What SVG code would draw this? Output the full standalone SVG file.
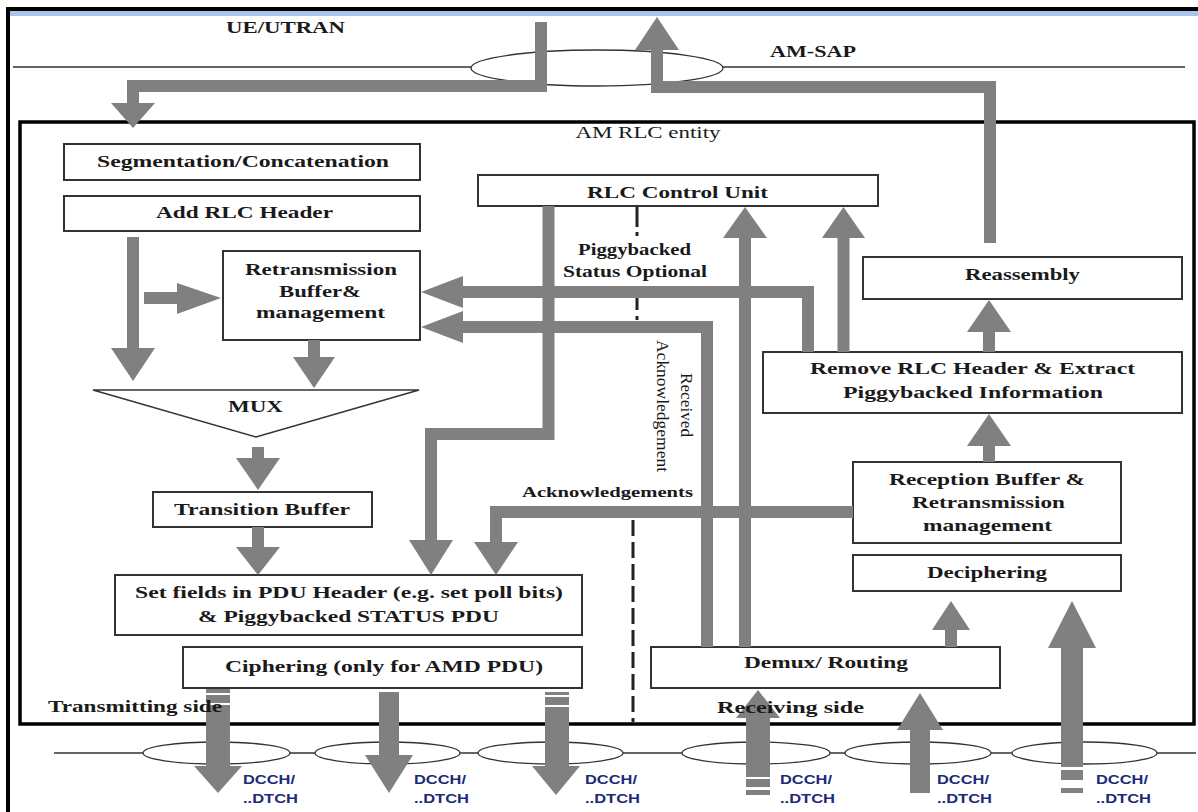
<svg xmlns="http://www.w3.org/2000/svg" width="1198" height="812" viewBox="0 0 1198 812">
<style>
.box{fill:#fff;stroke:#333;stroke-width:2}
.t{font-family:"Liberation Serif","Times New Roman",serif;font-weight:bold;font-size:17px;fill:#1a1a1a;text-anchor:middle}
.n{font-family:"Liberation Serif","Times New Roman",serif;font-size:16px;fill:#1a1a1a;text-anchor:middle}
.c{fill:none;stroke:#808080;stroke-width:12;stroke-linejoin:miter}
.h{fill:#808080;stroke:none}
.ch{font-family:"Liberation Sans",Arial,sans-serif;font-weight:bold;font-size:12.5px;fill:#1b2a7a}
.ln{stroke:#333;stroke-width:1.3;fill:none}
.el{stroke:#333;stroke-width:1.3;fill:#fff}
.dd{stroke:#222;stroke-width:3;fill:none}
</style>
<rect x="0" y="0" width="1198" height="812" fill="#fff"/>
<!-- outer frame -->
<rect x="6" y="7" width="1192" height="4" fill="#000"/>
<rect x="10" y="11" width="1188" height="5" fill="#a9c6ea"/>
<rect x="6" y="7" width="4" height="805" fill="#000"/>

<!-- SAP lines -->
<g id="am-sap">
<line class="ln" x1="13" y1="67" x2="1185" y2="67"/>
<ellipse class="el" cx="597" cy="68" rx="126" ry="18"/>
<text class="t" x="285.5" y="33" textLength="119" lengthAdjust="spacingAndGlyphs">UE/UTRAN</text>
<text class="t" x="813" y="57" textLength="86" lengthAdjust="spacingAndGlyphs">AM-SAP</text>
</g>
<g id="channels">
<line class="ln" x1="54" y1="753" x2="1196" y2="753"/>
<ellipse class="el" cx="216.5" cy="753" rx="73.5" ry="11"/>
<ellipse class="el" cx="387.5" cy="753" rx="72.5" ry="11"/>
<ellipse class="el" cx="550.5" cy="753" rx="72.5" ry="11"/>
<ellipse class="el" cx="756" cy="753" rx="74" ry="11"/>
<ellipse class="el" cx="918" cy="753" rx="73" ry="11"/>
<ellipse class="el" cx="1084.5" cy="753" rx="72.5" ry="11"/>
</g>

<!-- AM RLC entity -->
<g id="am-rlc-entity">
<rect x="20" y="122" width="1174" height="602" fill="none" stroke="#000" stroke-width="3.5"/>
<text class="n" x="648" y="138" textLength="145" lengthAdjust="spacingAndGlyphs">AM RLC entity</text>
</g>

<!-- divider -->
<g id="divider">
<line class="dd" x1="637" y1="207" x2="637" y2="227"/>
<line class="dd" x1="637" y1="232" x2="637" y2="236"/>
<line class="dd" x1="637" y1="292" x2="637" y2="310"/>
<line class="dd" x1="637" y1="316" x2="637" y2="320"/>
<line class="dd" x1="633" y1="520" x2="633" y2="722" stroke-dasharray="16 6"/>
</g>

<!-- nodes -->
<g id="segmentation">
<rect class="box" x="64" y="144" width="356" height="36"/>
<text class="t" x="243" y="167" textLength="292" lengthAdjust="spacingAndGlyphs">Segmentation/Concatenation</text>
</g>
<g id="add-rlc-header">
<rect class="box" x="64" y="196" width="356" height="35"/>
<text class="t" x="244.5" y="218" textLength="177" lengthAdjust="spacingAndGlyphs">Add RLC Header</text>
</g>
<g id="retx-buffer">
<rect class="box" x="223" y="251" width="197" height="89"/>
<text class="t" x="321" y="275" textLength="152" lengthAdjust="spacingAndGlyphs">Retransmission</text>
<text class="t" x="320" y="297" textLength="82" lengthAdjust="spacingAndGlyphs">Buffer&amp;</text>
<text class="t" x="320.5" y="318" textLength="129" lengthAdjust="spacingAndGlyphs">management</text>
</g>
<g id="mux">
<polygon points="93,390 419,390 256,437" fill="#fff" stroke="#333" stroke-width="1.5"/>
<text class="t" x="255.5" y="412" textLength="55" lengthAdjust="spacingAndGlyphs">MUX</text>
</g>
<g id="transition-buffer">
<rect class="box" x="153" y="492" width="219" height="35"/>
<text class="t" x="262" y="515" textLength="176" lengthAdjust="spacingAndGlyphs">Transition Buffer</text>
</g>
<g id="set-fields">
<rect class="box" x="115" y="575" width="467" height="60"/>
<text class="t" x="349" y="598" textLength="428" lengthAdjust="spacingAndGlyphs">Set fields in PDU Header (e.g. set poll bits)</text>
<text class="t" x="348.5" y="622" textLength="301" lengthAdjust="spacingAndGlyphs">&amp; Piggybacked STATUS PDU</text>
</g>
<g id="ciphering">
<rect class="box" x="183" y="647" width="399" height="41"/>
<text class="t" x="384" y="672" textLength="318" lengthAdjust="spacingAndGlyphs">Ciphering (only for AMD PDU)</text>
</g>
<g id="rlc-control-unit">
<rect class="box" x="478" y="175" width="400" height="31"/>
<text class="t" x="677.5" y="198" textLength="181" lengthAdjust="spacingAndGlyphs">RLC Control Unit</text>
</g>
<g id="reassembly">
<rect class="box" x="863" y="257" width="319" height="42"/>
<text class="t" x="1022.5" y="280" textLength="115" lengthAdjust="spacingAndGlyphs">Reassembly</text>
</g>
<g id="remove-header">
<rect class="box" x="763" y="352" width="419" height="61"/>
<text class="t" x="972.5" y="374" textLength="325" lengthAdjust="spacingAndGlyphs">Remove RLC Header &amp; Extract</text>
<text class="t" x="973" y="398" textLength="260" lengthAdjust="spacingAndGlyphs">Piggybacked Information</text>
</g>
<g id="reception-buffer">
<rect class="box" x="853" y="462" width="268" height="81"/>
<text class="t" x="987" y="485" textLength="196" lengthAdjust="spacingAndGlyphs">Reception Buffer &amp;</text>
<text class="t" x="988.5" y="508" textLength="153" lengthAdjust="spacingAndGlyphs">Retransmission</text>
<text class="t" x="987.5" y="531" textLength="129" lengthAdjust="spacingAndGlyphs">management</text>
</g>
<g id="deciphering">
<rect class="box" x="853" y="555" width="268" height="36"/>
<text class="t" x="987" y="578" textLength="120" lengthAdjust="spacingAndGlyphs">Deciphering</text>
</g>
<g id="demux-routing">
<rect class="box" x="651" y="647" width="349" height="41"/>
<text class="t" x="826" y="668" textLength="164" lengthAdjust="spacingAndGlyphs">Demux/ Routing</text>
</g>

<!-- connectors -->
<g id="connectors">
<path class="c" d="M541,22 V86 H133 V104"/>
<polygon class="h" points="111,103 155,103 133,128"/>
<path class="c" d="M990,243 V87 H657 V49"/>
<polygon class="h" points="635,50 679,50 657,17"/>
<path class="c" d="M133,237 V349"/>
<polygon class="h" points="111,348 155,348 133,381"/>
<path class="c" d="M144,298 H178"/>
<polygon class="h" points="177,283 177,314 221,298"/>
<path class="c" d="M314,340 V358"/>
<polygon class="h" points="293,357 335,357 314,388"/>
<path class="c" d="M258,447 V459"/>
<polygon class="h" points="236,458 280,458 258,490"/>
<path class="c" d="M258,527 V548"/>
<polygon class="h" points="236,547 280,547 258,575"/>
<path class="c" d="M548.5,206 V434 H431 V541"/>
<polygon class="h" points="409,540 453,540 431,575"/>
<path class="c" d="M853,512 H496 V543"/>
<polygon class="h" points="474,542 518,542 496,575"/>
<path class="c" d="M808,352 V292 H462"/>
<polygon class="h" points="463,276 463,308 421,292"/>
<path class="c" d="M707,647 V327 H462"/>
<polygon class="h" points="463,311 463,343 421,327"/>
<path class="c" d="M745,647 V237"/>
<polygon class="h" points="723,238 767,238 745,207"/>
<path class="c" d="M843.5,352 V237"/>
<polygon class="h" points="822,238 865,238 843.5,207"/>
<path class="c" d="M989,352 V331"/>
<polygon class="h" points="967,332 1011,332 989,300"/>
<path class="c" d="M989,462 V445"/>
<polygon class="h" points="967,446 1011,446 989,414"/>
<path class="c" d="M951,647 V629"/>
<polygon class="h" points="932,630 970,630 951,601"/>
<!-- transmitting channel arrows -->
<rect class="h" x="206" y="689" width="24" height="4"/>
<rect class="h" x="206" y="695" width="24" height="8"/>
<rect class="h" x="206" y="705" width="24" height="62"/>
<polygon class="h" points="194,766 242,766 218,793"/>
<rect class="h" x="379" y="692" width="20" height="64"/>
<polygon class="h" points="365,755 413,755 389,793"/>
<rect class="h" x="545" y="692" width="24" height="3"/>
<rect class="h" x="545" y="697" width="24" height="8"/>
<rect class="h" x="545" y="707" width="24" height="60"/>
<polygon class="h" points="532,766 580,766 556,795"/>
<!-- receiving channel arrows -->
<polygon class="h" points="736,718 780,718 758,690"/>
<rect class="h" x="746" y="717" width="24" height="60"/>
<rect class="h" x="746" y="779" width="24" height="8"/>
<rect class="h" x="746" y="790" width="24" height="5"/>
<polygon class="h" points="897,730 943,730 920,693"/>
<rect class="h" x="910" y="729" width="20" height="64"/>
<polygon class="h" points="1048,648 1096,648 1072,601"/>
<rect class="h" x="1061" y="647" width="22" height="120"/>
<rect class="h" x="1061" y="770" width="22" height="10"/>
<rect class="h" x="1061" y="788" width="22" height="5"/>
</g>

<!-- labels -->
<g id="labels">
<text class="t" x="634.5" y="255" textLength="113" lengthAdjust="spacingAndGlyphs">Piggybacked</text>
<text class="t" x="635" y="277" textLength="144" lengthAdjust="spacingAndGlyphs">Status Optional</text>
<text class="n" transform="translate(681,405) rotate(90)" textLength="64" lengthAdjust="spacingAndGlyphs">Received</text>
<text class="n" transform="translate(657,406) rotate(90)" textLength="132" lengthAdjust="spacingAndGlyphs">Acknowledgement</text>
<text class="t" style="font-size:15px" x="607.5" y="497" textLength="171" lengthAdjust="spacingAndGlyphs">Acknowledgements</text>
<text class="t" x="135" y="712" textLength="174" lengthAdjust="spacingAndGlyphs">Transmitting side</text>
<text class="t" x="790.5" y="713" textLength="147" lengthAdjust="spacingAndGlyphs">Receiving side</text>
<text class="ch" x="243" y="784" textLength="52" lengthAdjust="spacingAndGlyphs">DCCH/</text>
<text class="ch" x="243" y="803" textLength="55" lengthAdjust="spacingAndGlyphs">..DTCH</text>
<text class="ch" x="414" y="784" textLength="52" lengthAdjust="spacingAndGlyphs">DCCH/</text>
<text class="ch" x="414" y="803" textLength="55" lengthAdjust="spacingAndGlyphs">..DTCH</text>
<text class="ch" x="585" y="784" textLength="52" lengthAdjust="spacingAndGlyphs">DCCH/</text>
<text class="ch" x="585" y="803" textLength="55" lengthAdjust="spacingAndGlyphs">..DTCH</text>
<text class="ch" x="780" y="784" textLength="52" lengthAdjust="spacingAndGlyphs">DCCH/</text>
<text class="ch" x="780" y="803" textLength="55" lengthAdjust="spacingAndGlyphs">..DTCH</text>
<text class="ch" x="937" y="784" textLength="52" lengthAdjust="spacingAndGlyphs">DCCH/</text>
<text class="ch" x="937" y="803" textLength="55" lengthAdjust="spacingAndGlyphs">..DTCH</text>
<text class="ch" x="1096" y="784" textLength="52" lengthAdjust="spacingAndGlyphs">DCCH/</text>
<text class="ch" x="1096" y="803" textLength="55" lengthAdjust="spacingAndGlyphs">..DTCH</text>
</g>
</svg>
